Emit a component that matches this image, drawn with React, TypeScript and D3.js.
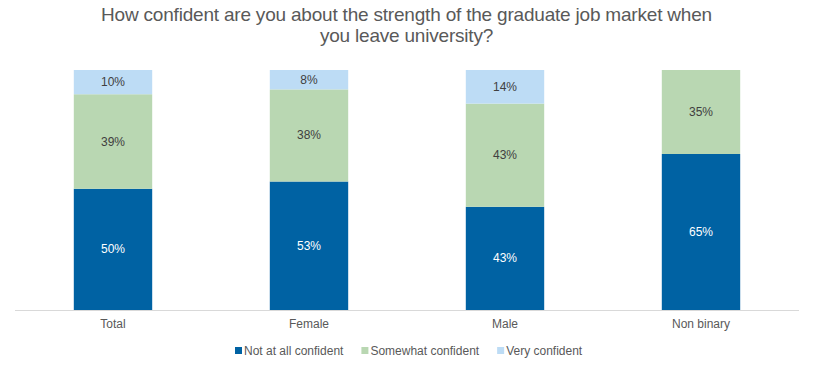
import React from "react";
import * as d3 from "d3";

const categories = ["Total", "Female", "Male", "Non binary"];
const seriesNames = ["Not at all confident", "Somewhat confident", "Very confident"];
const notAtAll = [50, 53, 43, 65];
const somewhat = [39, 38, 43, 35];
const very = [10, 8, 14, 0];
const titleLines = [
  "How confident are you about the strength of the graduate job market when",
  "you leave university?",
];

const colors = ["#0062a3", "#b9d7b2", "#bddcf5"];
const labelColors = ["#ffffff", "#404040", "#404040"];

function drawChart(svgEl: SVGSVGElement) {
  const w = 813;
  const h = 369;
  const svg = d3.select(svgEl);
  svg.selectAll("*").remove();
  svg.attr("width", w).attr("height", h);

  const font = "'Liberation Sans', Arial, sans-serif";
  const margin = { top: 70, bottom: 59, left: 15, right: 14 };

  // rows for stacking
  const rows = categories.map((c, i) => ({
    cat: c,
    s0: notAtAll[i],
    s1: somewhat[i],
    s2: very[i],
  }));
  const keys = ["s0", "s1", "s2"];
  const stacked = d3
    .stack<any>()
    .keys(keys)
    .offset(d3.stackOffsetExpand)(rows);

  const x = d3
    .scaleBand()
    .domain(categories)
    .range([margin.left, w - margin.right])
    .paddingInner(0.6)
    .paddingOuter(0.3);
  const y = d3.scaleLinear().domain([0, 1]).range([h - margin.bottom, margin.top]);

  // title
  svg
    .append("g")
    .selectAll("text")
    .data(titleLines)
    .join("text")
    .attr("x", w / 2)
    .attr("y", (d, i) => 21 + i * 21)
    .attr("text-anchor", "middle")
    .attr("font-family", font)
    .attr("font-size", 19)
    .attr("letter-spacing", -0.2)
    .attr("fill", "#595959")
    .text((d) => d);

  // bars
  const layers = svg
    .append("g")
    .selectAll("g")
    .data(stacked)
    .join("g")
    .attr("fill", (d, i) => colors[i]);

  layers
    .selectAll("rect")
    .data((d) => d.filter((p) => p[1] - p[0] > 0))
    .join("rect")
    .attr("x", (d) => x(d.data.cat)!)
    .attr("width", x.bandwidth())
    .attr("y", (d) => y(d[1]))
    .attr("height", (d) => y(d[0]) - y(d[1]));

  // labels
  stacked.forEach((layer, li) => {
    svg
      .append("g")
      .selectAll("text")
      .data(layer.filter((p) => p[1] - p[0] > 0))
      .join("text")
      .attr("x", (d) => x(d.data.cat)! + x.bandwidth() / 2)
      .attr("y", (d) => (y(d[0]) + y(d[1])) / 2 + 4)
      .attr("text-anchor", "middle")
      .attr("font-family", font)
      .attr("font-size", 12)
      .attr("fill", labelColors[li])
      .text((d) => (d.data as any)[keys[li]] + "%");
  });

  // x axis
  const axis = svg
    .append("g")
    .attr("transform", `translate(0,${h - margin.bottom + 0.5})`)
    .call(d3.axisBottom(x).tickSize(0).tickPadding(9));
  axis.select(".domain").attr("stroke", "#d9d9d9").attr("d", `M${margin.left},0H${w - margin.right}`);
  axis
    .selectAll("text")
    .attr("font-family", font)
    .attr("font-size", 12)
    .attr("fill", "#595959");

  // legend
  const legend = svg.append("g").attr("transform", "translate(0,355)");
  let lx = 235;
  seriesNames.forEach((name, i) => {
    legend
      .append("rect")
      .attr("x", lx)
      .attr("y", -8)
      .attr("width", 7)
      .attr("height", 7)
      .attr("fill", colors[i]);
    const t = legend
      .append("text")
      .attr("x", lx + 9)
      .attr("y", 0)
      .attr("font-family", font)
      .attr("font-size", 12)
      .attr("fill", "#595959")
      .text(name);
    const tw = (t.node() as SVGTextElement).getComputedTextLength();
    lx = lx + 9 + tw + 18;
  });
}

const App = () => {
  const svg = React.useRef<SVGSVGElement>(null);

  React.useEffect(() => {
    document.body.style.margin = "0";
    if (svg.current) drawChart(svg.current);
  }, []);

  return <svg ref={svg} style={{ display: "block" }} />;
};

export default App;
